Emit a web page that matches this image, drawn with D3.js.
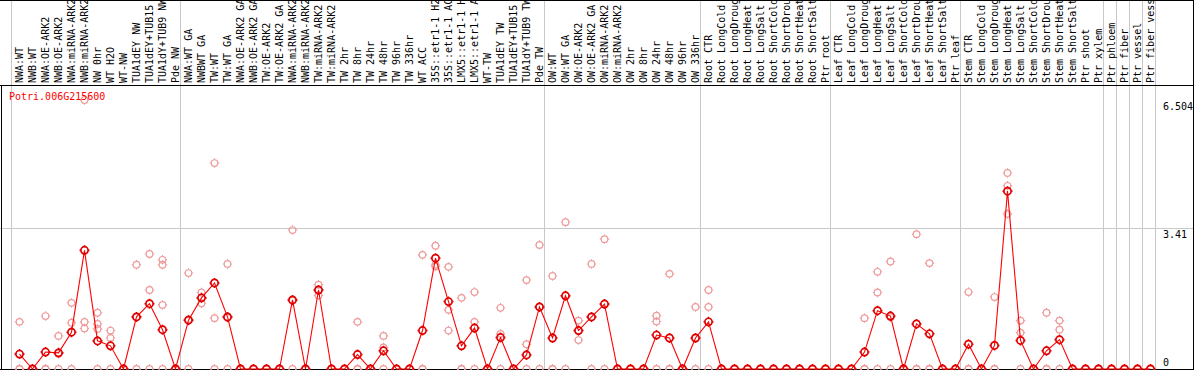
<!DOCTYPE html>
<html>
<head>
<meta charset="utf-8">
<script src="https://cdn.jsdelivr.net/npm/d3@7"></script>
<style>
html,body{margin:0;padding:0;background:#fff;overflow:hidden;}
svg{display:block;}
text{font-family:"DejaVu Sans Mono",monospace;font-size:10px;}
</style>
</head>
<body>
<svg id="chart" width="1194" height="370"></svg>
<script>
const geneId = "Potri.006G215600";

const categories = [
"NWA:WT","NWB:WT","NWA:OE-ARK2","NWB:OE-ARK2","NWA:miRNA-ARK2","NWB:miRNA-ARK2","NW 0hr","WT H2O","WT-NW",
"TUA1dEY NW","TUA1dEY+TUB15 NW","TUA1dY+TUB9 NW","Pde NW",
"NWA:WT GA","NWBWT GA","TW:WT","TW:WT GA","NWA:OE-ARK2 GA","NWB:OE-ARK2 GA","TW:OE-ARK2","TW:OE-ARK2 GA",
"NWA:miRNA-ARK2 GA","NWB:miRNA-ARK2 GA","TW:miRNA-ARK2","TW:miRNA-ARK2 GA",
"TW 2hr","TW 8hr","TW 24hr","TW 48hr","TW 96hr","TW 336hr","WT ACC",
"35S::etr1-1 H2O","35S::etr1-1 ACC","LMX5::etr1-1 H2O","LMX5::etr1-1 ACC","WT-TW",
"TUA1dEY TW","TUA1dEY+TUB15 TW","TUA1dY+TUB9 TW","Pde TW",
"OW:WT","OW:WT GA","OW:OE-ARK2","OW:OE-ARK2 GA","OW:miRNA-ARK2","OW:miRNA-ARK2 GA",
"OW 2hr","OW 8hr","OW 24hr","OW 48hr","OW 96hr","OW 336hr",
"Root CTR","Root LongCold","Root LongDrought","Root LongHeat","Root LongSalt","Root ShortCold","Root ShortDrought","Root ShortHeat","Root ShortSalt","Ptr root",
"Leaf CTR","Leaf LongCold","Leaf LongDrought","Leaf LongHeat","Leaf LongSalt","Leaf ShortCold","Leaf ShortDrought","Leaf ShortHeat","Leaf ShortSalt","Ptr leaf",
"Stem CTR","Stem LongCold","Stem LongDrought","Stem LongHeat","Stem LongSalt","Stem ShortCold","Stem ShortDrought","Stem ShortHeat","Stem ShortSalt","Ptr shoot","Ptr xylem",
"Ptr phloem","Ptr fiber","Ptr vessel","Ptr fiber vessel"
];

// mean expression per sample
const meanValues = [
0.36,0,0.41,0.39,0.89,2.87,0.68,0.56,0,
1.26,1.58,0.95,0,
1.18,1.72,2.08,1.26,0,0,0,0,
1.67,0,1.91,0,
0,0.35,0,0.44,0,0,0.93,
2.68,1.63,0.56,0.99,0,
0.76,0,0.34,1.50,
0.75,1.77,0.93,1.26,1.57,0,
0,0,0.82,0.75,0,0.75,
1.14,0,0,0,0,0,0,0,0,0,
0,0,0.41,1.41,1.28,0,1.09,0.85,0,0,
0.60,0,0.57,4.30,0.69,0,0.44,0.71,0,0,0,
0,0,0,0
];

// individual replicates (null = none)
const rep1 = [
1.14,0,1.28,0.80,1.60,6.504,1.36,0.93,0,
2.52,2.78,2.64,0,
2.32,1.85,4.98,2.54,0,0,0,0,
3.36,0,2.04,0,
0,1.14,0,0.80,0,0,2.76,
2.98,2.47,1.72,1.86,0,
1.48,0,2.15,3.00,
2.25,3.55,1.17,2.54,3.14,0,
0,0,1.29,2.30,0,1.50,
1.91,0,0,0,0,0,0,0,0,0,
0,0,1.23,2.35,2.60,0,3.26,2.56,0,0,
1.86,0,1.74,4.74,1.17,0,1.36,1.17,0,0,0,
0,0,0,0
];
const rep2 = [
0,0,0,0.37,1.12,1.14,1.09,0.75,0,
1.26,1.91,2.52,0,
1.20,1.72,1.23,1.24,0,0,0,0,
1.65,0,1.91,0,
0,0,0,0.52,0,0,0,
2.52,1.43,0,1.14,0,
0.85,0,0.60,1.50,
0,1.77,0.93,1.26,1.57,0,
0,0,1.15,0,0,0.75,
1.50,0,0,0,0,0,0,0,0,0,
0,0,0,1.85,1.25,0,0,0,0,0,
0,0,0,4.43,0.88,0,0,0.95,0,0,0,
0,0,0,0
];
const rep3 = [
0,0,0,0,0,0.98,0.97,0,0,
0,0,1.55,0,
0,1.59,0,0,0,0,0,0,
0,0,1.78,0,
0,0,0,0,0,0,0,
2.48,0.93,0,0,0,
0,0,0,0,
0,0,0.70,0,0,0,
0,0,0,0,0,0,
0,0,0,0,0,0,0,0,0,0,
0,0,0,0,0,0,0,0,0,0,
0,0,0,3.75,0,0,0,0,0,0,0,
0,0,0,0
];
const rep4 = categories.map((c,i)=> (i===6||i===11) ? 0 : null);

// group separators: first sample of each block, plus end
const groupStarts = ["NWA:WT","NWA:WT GA","OW:WT","Root CTR","Leaf CTR","Stem CTR","Ptr phloem","Ptr fiber","Ptr vessel","Ptr fiber vessel"];

const yTicks = [0, 3.41, 6.504];
const yMax = 6.504;

const W = 1194, H = 370;
const svg = d3.select("#chart");

const x = d3.scalePoint().domain(categories).range([19.5, 19.5 + 13*(categories.length-1)]);
const step = x.step();
const y = d3.scaleLinear().domain([0, yMax]).range([369, 100]);

const grey = "#c8c8c8";

// horizontal grid at middle tick
svg.append("line").attr("x1",0).attr("x2",W).attr("y1",Math.round(y(3.41))+0.5).attr("y2",Math.round(y(3.41))+0.5)
  .attr("stroke",grey).attr("stroke-width",1);

// vertical group lines
const sepX = groupStarts.map(c => x(c) - 9).concat([x(categories[categories.length-1]) + step - 9]);
svg.selectAll("line.sep").data(sepX).join("line").attr("class","sep")
  .attr("x1",d=>Math.round(d)+0.5).attr("x2",d=>Math.round(d)+0.5).attr("y1",0).attr("y2",H)
  .attr("stroke",grey).attr("stroke-width",1);

// header labels
svg.append("g").selectAll("text").data(categories).join("text")
  .attr("transform", d => `translate(${x(d)+3.5},83) rotate(-90)`)
  .attr("text-anchor","start")
  .attr("fill","#000")
  .text(d => d);

// frame lines
svg.append("line").attr("x1",0).attr("x2",W).attr("y1",0.5).attr("y2",0.5).attr("stroke","#000");
svg.append("line").attr("x1",0).attr("x2",W).attr("y1",85.5).attr("y2",85.5).attr("stroke","#000");
svg.append("line").attr("x1",1.5).attr("x2",1.5).attr("y1",85).attr("y2",H).attr("stroke","#000");
svg.append("line").attr("x1",1193.5).attr("x2",1193.5).attr("y1",0).attr("y2",H).attr("stroke","#000");
svg.append("line").attr("x1",0).attr("x2",W).attr("y1",369.5).attr("y2",369.5).attr("stroke","#000");

// y axis labels (right side)
const yLab = svg.append("g").attr("fill","#000");
yTicks.forEach(v => {
  const t = yLab.append("text").attr("x",1163).text(String(v));
  if (v === 0) t.attr("y", y(v) - 3);
  else t.attr("y", y(v) + 3).attr("dominant-baseline","hanging");
});

// marker helper
function marker(g, cx, cy, r, tick, color, sw) {
  g.append("circle").attr("cx",cx).attr("cy",cy).attr("r",r)
    .attr("fill","none").attr("stroke",color).attr("stroke-width",sw);
  const p = `M${cx-r-tick},${cy}H${cx-r}M${cx+r},${cy}H${cx+r+tick}M${cx},${cy-r-tick}V${cy-r}M${cx},${cy+r}V${cy+r+tick}`;
  g.append("path").attr("d",p).attr("stroke",color).attr("stroke-width",sw*0.9).attr("fill","none");
}

// replicate points
const repG = svg.append("g");
[rep1, rep2, rep3, rep4].forEach(arr => {
  arr.forEach((v,i) => {
    if (v === null || v === undefined) return;
    marker(repG, x(categories[i]), y(v), 3.3, 1.4, "#ee9c9c", 1.2);
  });
});

// mean line
const line = d3.line().x((d,i)=>x(categories[i])).y(d=>y(d));
svg.append("path").datum(meanValues).attr("d",line)
  .attr("fill","none").attr("stroke","#ff0000").attr("stroke-width",1.1);

// mean markers
const meanG = svg.append("g");
meanValues.forEach((v,i) => marker(meanG, x(categories[i]), y(v), 3.6, 1.4, "#e00000", 1.7));

// title
svg.append("text").attr("x",9).attr("y",100).attr("fill","#ff0000").text(geneId);
</script>
</body>
</html>
